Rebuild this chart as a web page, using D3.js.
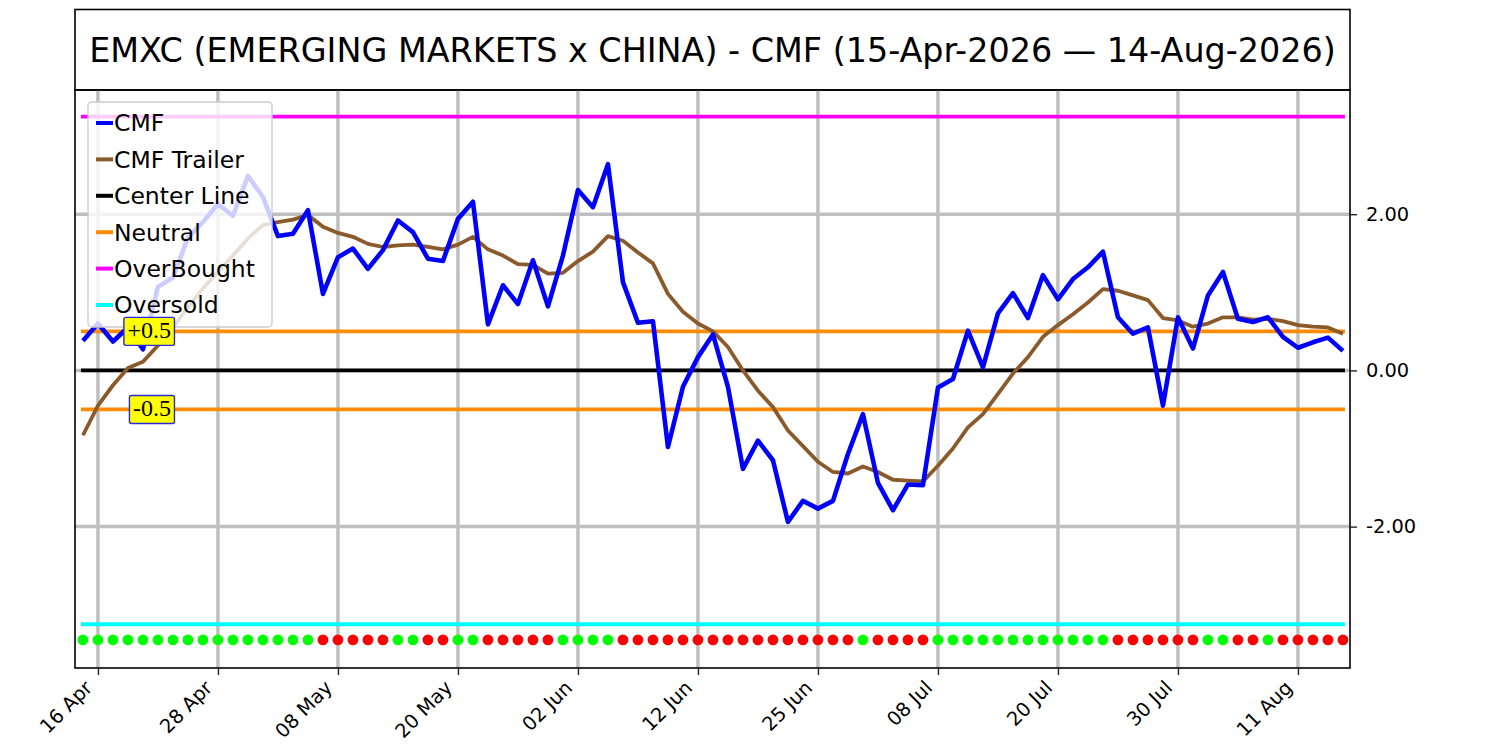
<!DOCTYPE html>
<html>
<head>
<meta charset="utf-8">
<script src="https://cdn.jsdelivr.net/npm/d3@7"></script>
<style>
  body { margin: 0; background: #fff; }
  svg { display: block; font-family: "DejaVu Sans", sans-serif; }
</style>
</head>
<body>
<div id="container"></div>
<script>
// Trading days shown on the chart (NYSE sessions, 15 Apr - 14 Aug 2026).
const dates = [
  "2026-04-15", "2026-04-16", "2026-04-17", "2026-04-20", "2026-04-21", "2026-04-22", "2026-04-23", "2026-04-24",
  "2026-04-27", "2026-04-28", "2026-04-29", "2026-04-30", "2026-05-01", "2026-05-04", "2026-05-05", "2026-05-06",
  "2026-05-07", "2026-05-08", "2026-05-11", "2026-05-12", "2026-05-13", "2026-05-14", "2026-05-15", "2026-05-18",
  "2026-05-19", "2026-05-20", "2026-05-21", "2026-05-22", "2026-05-26", "2026-05-27", "2026-05-28", "2026-05-29",
  "2026-06-01", "2026-06-02", "2026-06-03", "2026-06-04", "2026-06-05", "2026-06-08", "2026-06-09", "2026-06-10",
  "2026-06-11", "2026-06-12", "2026-06-15", "2026-06-16", "2026-06-17", "2026-06-18", "2026-06-22", "2026-06-23",
  "2026-06-24", "2026-06-25", "2026-06-26", "2026-06-29", "2026-06-30", "2026-07-01", "2026-07-02", "2026-07-06",
  "2026-07-07", "2026-07-08", "2026-07-09", "2026-07-10", "2026-07-13", "2026-07-14", "2026-07-15", "2026-07-16",
  "2026-07-17", "2026-07-20", "2026-07-21", "2026-07-22", "2026-07-23", "2026-07-24", "2026-07-27", "2026-07-28",
  "2026-07-29", "2026-07-30", "2026-07-31", "2026-08-03", "2026-08-04", "2026-08-05", "2026-08-06", "2026-08-07",
  "2026-08-10", "2026-08-11", "2026-08-12", "2026-08-13", "2026-08-14"
];

const cmf = [
  0.38, 0.60, 0.37, 0.55, 0.27, 1.07, 1.19, 1.70, 1.90, 2.13, 1.98, 2.49, 2.22, 1.72, 1.75, 2.05,
  0.98, 1.45, 1.56, 1.30, 1.54, 1.92, 1.77, 1.43, 1.40, 1.94, 2.16, 0.59, 1.09, 0.85, 1.41, 0.82,
  1.47, 2.31, 2.09, 2.64, 1.13, 0.61, 0.63, -0.98, -0.21, 0.17, 0.46, -0.21, -1.26, -0.90, -1.15, -1.94,
  -1.67, -1.77, -1.67, -1.07, -0.56, -1.44, -1.79, -1.46, -1.47, -0.22, -0.11, 0.51, 0.04, 0.73, 0.99, 0.67,
  1.22, 0.91, 1.17, 1.32, 1.52, 0.68, 0.47, 0.55, -0.45, 0.68, 0.28, 0.96, 1.26, 0.66, 0.62, 0.68,
  0.43, 0.29, 0.36, 0.42, 0.25
];

const trailer = [
  -0.83, -0.45, -0.19, 0.03, 0.11, 0.32, 0.55, 0.81, 1.05, 1.26, 1.47, 1.69, 1.86, 1.90, 1.93, 1.99,
  1.84, 1.76, 1.71, 1.62, 1.58, 1.60, 1.61, 1.58, 1.55, 1.61, 1.71, 1.55, 1.47, 1.36, 1.35, 1.24,
  1.25, 1.40, 1.52, 1.72, 1.66, 1.51, 1.37, 0.98, 0.75, 0.60, 0.50, 0.30, 0.00, -0.26, -0.47, -0.77,
  -0.97, -1.17, -1.30, -1.32, -1.23, -1.30, -1.40, -1.41, -1.42, -1.22, -1.00, -0.73, -0.56, -0.30, -0.04, 0.17,
  0.43, 0.58, 0.72, 0.87, 1.04, 1.02, 0.96, 0.90, 0.67, 0.64, 0.56, 0.60, 0.68, 0.68, 0.65, 0.66,
  0.63, 0.58, 0.56, 0.55, 0.47
];

// signal dots along the bottom: G = green, R = red
const signal = ("GGGGGGGGGGGGGGGG" + "RRRRR" + "GG" + "RR" + "GG" + "RRRRR" + "GGGG" +
  "RRRRRRRRRRRRRRRR" + "G" + "RRRR" + "GGGGGGGGGGGG" + "RRRRRR" + "GG" + "RR" + "G" + "RRRRR").split("");

const centerLine = 0;
const neutralLevels = [0.5, -0.5];
const overBought = 3.25;
const overSold = -3.25;
const signalLevel = -3.45;

const xTickIdx = [1, 9, 17, 25, 33, 41, 49, 57, 65, 73, 81];
const yTicks = [-2, 0, 2];

const title = "EMXC (EMERGING MARKETS x CHINA) - CMF (15-Apr-2026 \u2014 14-Aug-2026)";

// chart box
const width = 1500;
const height = 750;
const marginLeft = 75, marginRight = 1350, marginTop = 90, marginBottom = 668;

const parse = d3.timeParse("%Y-%m-%d");
const fmt = d3.timeFormat("%d %b");

const x = d3.scaleLinear().domain([-0.53, dates.length - 0.53]).range([marginLeft, marginRight]);
const y = d3.scaleLinear().domain([-3.81, 3.59]).range([marginBottom, marginTop]);

const svg = d3.select("#container").append("svg")
  .attr("width", width).attr("height", height);

// title box
svg.append("rect")
  .attr("x", marginLeft).attr("y", 9.5).attr("width", marginRight - marginLeft).attr("height", marginTop - 9.5)
  .attr("fill", "#fff").attr("stroke", "#000").attr("stroke-width", 1.6);
svg.append("text")
  .attr("x", (marginLeft + marginRight) / 2).attr("y", 62)
  .attr("text-anchor", "middle").attr("font-size", 33.4).attr("fill", "#000")
  .text(title);

const plot = svg.append("g");

// grid
const grid = plot.append("g").attr("stroke", "#bfbfbf").attr("stroke-width", 3.5);
grid.selectAll("line.v").data(xTickIdx).join("line").attr("class", "v")
  .attr("x1", d => x(d)).attr("x2", d => x(d)).attr("y1", marginTop).attr("y2", marginBottom);
grid.selectAll("line.h").data(yTicks).join("line").attr("class", "h")
  .attr("x1", marginLeft).attr("x2", marginRight).attr("y1", d => y(d)).attr("y2", d => y(d));

// reference lines
const refs = [
  { v: overBought, c: "#ff00ff" },
  { v: overSold, c: "#00ffff" },
  { v: neutralLevels[0], c: "#ff8c00" },
  { v: neutralLevels[1], c: "#ff8c00" },
  { v: centerLine, c: "#000" }
];
plot.append("g").selectAll("line").data(refs).join("line")
  .attr("x1", x(0) - 2).attr("x2", x(dates.length - 1) + 2)
  .attr("y1", d => y(d.v)).attr("y2", d => y(d.v))
  .attr("stroke", d => d.c).attr("stroke-width", 3.8);

const line = d3.line().x((d, i) => x(i)).y(d => y(d));

plot.append("path").datum(trailer)
  .attr("d", line).attr("fill", "none")
  .attr("stroke", "#8b5a2b").attr("stroke-width", 3.8).attr("stroke-linejoin", "round");

plot.append("path").datum(cmf)
  .attr("d", line).attr("fill", "none")
  .attr("stroke", "#0000ff").attr("stroke-width", 4.6).attr("stroke-linejoin", "round");

// signal dots
plot.append("g").selectAll("circle").data(signal).join("circle")
  .attr("cx", (d, i) => x(i)).attr("cy", y(signalLevel)).attr("r", 5.4)
  .attr("fill", d => d === "G" ? "#00ff00" : "#ff0000");

// axes frame
svg.append("rect")
  .attr("x", marginLeft).attr("y", marginTop).attr("width", marginRight - marginLeft).attr("height", marginBottom - marginTop)
  .attr("fill", "none").attr("stroke", "#000").attr("stroke-width", 1.6);

const yAxis = svg.append("g")
  .attr("transform", `translate(${marginRight},0)`)
  .call(d3.axisRight(y).tickValues(yTicks).tickFormat(d => d.toFixed(2)).tickSize(7).tickPadding(9));
yAxis.select(".domain").remove();
yAxis.selectAll("text").attr("font-size", 19.4).attr("font-family", "DejaVu Sans").attr("fill", "#000");
yAxis.selectAll("line").attr("stroke", "#222").attr("stroke-width", 1.4);

const xAxis = svg.append("g")
  .attr("transform", `translate(0,${marginBottom})`)
  .call(d3.axisBottom(x).tickValues(xTickIdx).tickFormat(i => fmt(parse(dates[i]))).tickSize(7));
xAxis.select(".domain").remove();
xAxis.selectAll("line").attr("stroke", "#222").attr("stroke-width", 1.4);
xAxis.selectAll("text")
  .attr("font-size", 19.4).attr("font-family", "DejaVu Sans").attr("fill", "#000")
  .attr("text-anchor", "end")
  .attr("dy", 0)
  .attr("transform", "translate(-5,21) rotate(-45)")
  .attr("x", 0).attr("y", 0);

// legend
const legendItems = [
  { name: "CMF", c: "#0000ff" },
  { name: "CMF Trailer", c: "#8b5a2b" },
  { name: "Center Line", c: "#000" },
  { name: "Neutral", c: "#ff8c00" },
  { name: "OverBought", c: "#ff00ff" },
  { name: "Oversold", c: "#00ffff" }
];
const legend = svg.append("g");
legend.append("rect")
  .attr("x", 88).attr("y", 102).attr("width", 184).attr("height", 225).attr("rx", 4)
  .attr("fill", "#fff").attr("fill-opacity", 0.8).attr("stroke", "#cccccc").attr("stroke-width", 1.3);
const li = legend.selectAll("g.item").data(legendItems).join("g").attr("class", "item")
  .attr("transform", (d, i) => `translate(0,${123 + i * 36.4})`);
li.append("line").attr("x1", 96).attr("x2", 113).attr("y1", 0).attr("y2", 0)
  .attr("stroke", d => d.c).attr("stroke-width", 4);
li.append("text").attr("x", 114).attr("y", 8.3)
  .attr("font-size", 23.5).attr("fill", "#000")
  .text(d => d.name);

// +0.5 / -0.5 tags
const tags = [
  { v: neutralLevels[0], t: "+0.5" },
  { v: neutralLevels[1], t: "-0.5" }
];
tags.forEach(tg => {
  const g = svg.append("g");
  const txt = g.append("text")
    .attr("x", x(6) - 2).attr("y", y(tg.v) + 6.5)
    .attr("text-anchor", "end")
    .attr("font-family", "Liberation Serif, serif").attr("font-size", 24)
    .text(tg.t);
  const b = txt.node().getBBox();
  g.insert("rect", "text")
    .attr("x", b.x - 3.5).attr("y", y(tg.v) - 14)
    .attr("width", b.width + 7).attr("height", 28).attr("rx", 2)
    .attr("fill", "#ffff00").attr("stroke", "#2828dd").attr("stroke-width", 1.4);
});
</script>
</body>
</html>
